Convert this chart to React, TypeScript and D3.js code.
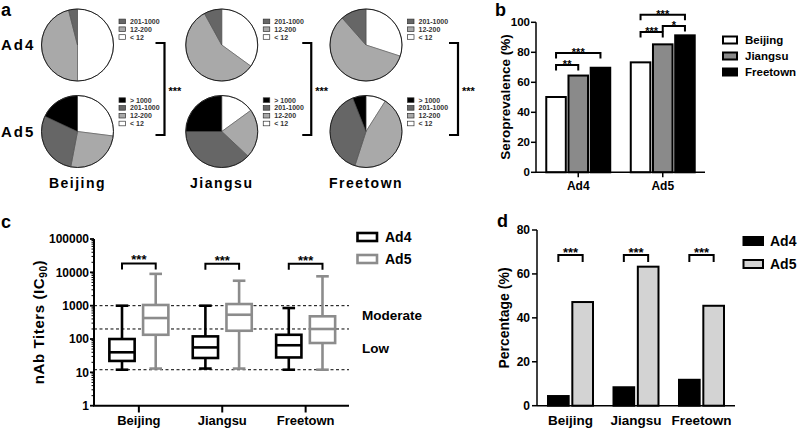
import React from 'react';
import * as d3 from 'd3';

const FONT = '"Liberation Sans", Arial, Helvetica, sans-serif';

// ---------- Panel a: distribution of nAb titers ----------
const cities = ['Beijing', 'Jiangsu', 'Freetown'];
const titerBins = ['< 12', '12-200', '201-1000', '> 1000'];
const binColors = ['#ffffff', '#a9a9a9', '#666666', '#000000'];
const ad4Shares = [
  [50, 46, 4, 0],
  [35, 57, 8, 0],
  [30, 58.5, 11.5, 0],
];
const ad5Shares = [
  [27, 26, 29, 18],
  [15, 22, 38, 25],
  [9, 46, 39, 6],
];
const pieRows = ['Ad4', 'Ad5'];
const pieSignificance = ['***', '***', '***'];

// ---------- Panel b: seroprevalence ----------
const seroGroups = ['Ad4', 'Ad5'];
const seroAd4 = [50.2, 64.5, 69.7];
const seroAd5 = [73.3, 85.3, 91.3];
const seroTicks = [0, 20, 40, 60, 80, 100];
const cityFills = ['#ffffff', '#8a8a8a', '#000000'];
const seroBrackets = [
  { group: 'Ad4', from: 0, to: 1, level: 71.5, label: '**' },
  { group: 'Ad4', from: 0, to: 2, level: 79.5, label: '***' },
  { group: 'Ad5', from: 0, to: 1, level: 93.5, label: '***' },
  { group: 'Ad5', from: 1, to: 2, level: 97.5, label: '*' },
  { group: 'Ad5', from: 0, to: 2, level: 105, label: '***' },
];

// ---------- Panel c: box plots of nAb titers ----------
const boxSeries = ['Ad4', 'Ad5'];
const boxColors = ['#000000', '#8c8c8c'];
const ad4Min = [12, 13, 12];
const ad4Q1 = [22, 27, 28];
const ad4Median = [40, 56, 65];
const ad4Q3 = [100, 120, 134];
const ad4Max = [1000, 1000, 850];
const ad5Min = [13, 13, 12];
const ad5Q1 = [134, 177, 76];
const ad5Median = [426, 535, 200];
const ad5Q3 = [1050, 1120, 480];
const ad5Max = [9000, 5600, 7600];
const titerTicks = [1, 10, 100, 1000, 10000, 100000];
const thresholds = [12, 200, 1000];
const boxBracketLevel = [18500, 18000, 18000];

// ---------- Panel d: percentage with high titers ----------
const highAd4 = [4.4, 8.4, 11.8];
const highAd5 = [47.2, 63.3, 45.5];
const highTicks = [0, 20, 40, 60, 80];
const highColors = ['#000000', '#d3d3d3'];
const highBracketLevel = [68.6, 68.6, 68.6];

function Bracket({ x1, x2, y, drop, label, fs, lift = 0 }: any) {
  return (
    <g>
      <path d={`M${x1},${y + drop}V${y}H${x2}V${y + drop}`} fill="none" stroke="#000" strokeWidth={2} />
      <text x={(x1 + x2) / 2} y={y + lift} textAnchor="middle" fontSize={fs} fontWeight="bold" fontFamily={FONT}>
        {label}
      </text>
    </g>
  );
}

function PanelA() {
  const cx = d3.scalePoint<string>().domain(cities).range([77.5, 366]);
  const bx = d3.scalePoint<string>().domain(cities).range([164.5, 458]);
  const cy = d3.scalePoint<string>().domain(pieRows).range([45, 131.5]);
  const r = 36;
  const pie = d3.pie<number>().sort(null).value((d) => d);
  const arc = d3.arc<any>().innerRadius(0).outerRadius(r);
  const rows = [ad4Shares, ad5Shares];
  return (
    <g>
      <text x={1} y={16} fontSize={18} fontWeight="bold" fontFamily={FONT}>a</text>
      {pieRows.map((row) => (
        <text key={row} x={1} y={cy(row)! + 5} fontSize={15} fontWeight="bold" letterSpacing={2} fontFamily={FONT}>
          {row}
        </text>
      ))}
      {cities.map((city, ci) => {
        const x = cx(city)!;
        return (
          <g key={city}>
            {pieRows.map((row, ri) => {
              const y = cy(row)!;
              const shares = rows[ri][ci];
              const arcs = pie(shares);
              const legendIdx = titerBins.map((_, i) => i).filter((i) => rows[ri].some((s) => s[i] > 0)).reverse();
              return (
                <g key={row}>
                  <g transform={`translate(${x},${y})`}>
                    {arcs.map((a, i) =>
                      a.value > 0 ? (
                        <path key={i} d={arc(a)!} fill={binColors[i]} stroke="#444" strokeWidth={0.5} />
                      ) : null
                    )}
                    <circle r={r} fill="none" stroke="#222" strokeWidth={1} />
                  </g>
                  {legendIdx.map((bi, k) => {
                    const ly = y - 8 - (legendIdx.length - 1 - k) * 7.8;
                    return (
                      <g key={bi}>
                        <rect x={x + 41.5} y={ly - 2.3} width={6.5} height={4.6} fill={binColors[bi]} stroke="#333" strokeWidth={0.7} />
                        <text x={x + 52.5} y={ly + 2.5} fontSize={7} fontWeight="bold" fill="#333" fontFamily={FONT}>
                          {titerBins[bi]}
                        </text>
                      </g>
                    );
                  })}
                </g>
              );
            })}
            <path d={`M${bx(city)! - 9},43H${bx(city)}V135H${bx(city)! - 9}`} fill="none" stroke="#000" strokeWidth={2.2} />
            <text x={bx(city)! + 4} y={95} fontSize={11} fontWeight="bold" fontFamily={FONT}>
              {pieSignificance[ci]}
            </text>
            <text x={x} y={188.3} textAnchor="middle" fontSize={14} fontWeight="bold" letterSpacing={1.5} fontFamily={FONT}>
              {city}
            </text>
          </g>
        );
      })}
    </g>
  );
}

function PanelB() {
  const y = d3.scaleLinear().domain([0, 100]).range([172.3, 22.3]);
  const x = d3.scaleBand<string>().domain(seroGroups).range([536, 705]).paddingInner(0.243).paddingOuter(0.1215);
  const sub = d3.scaleBand<string>().domain(cities).range([0, x.bandwidth()]).paddingInner(0.12);
  const vals = [seroAd4, seroAd5];
  const barCenter = (g: string, i: number) => x(g)! + sub(cities[i])! + sub.bandwidth() / 2;
  return (
    <g fontFamily={FONT}>
      <text x={495} y={16} fontSize={18} fontWeight="bold">b</text>
      {seroGroups.map((g, gi) =>
        cities.map((c, ci) => (
          <rect key={g + c} x={x(g)! + sub(c)!} y={y(vals[gi][ci])} width={sub.bandwidth()} height={y(0) - y(vals[gi][ci])}
            fill={cityFills[ci]} stroke="#000" strokeWidth={2} />
        ))
      )}
      <line x1={536} x2={536} y1={y(100)} y2={y(0)} stroke="#000" strokeWidth={1.5} />
      <line x1={536} x2={705} y1={y(0)} y2={y(0)} stroke="#000" strokeWidth={1.5} />
      {seroTicks.map((t) => (
        <g key={t}>
          <line x1={531} x2={536} y1={y(t)} y2={y(t)} stroke="#000" strokeWidth={1.5} />
          <text x={530} y={y(t) + 4} textAnchor="end" fontSize={11.5} fontWeight="bold">{t}</text>
        </g>
      ))}
      {seroGroups.map((g) => (
        <g key={g}>
          <line x1={x(g)! + x.bandwidth() / 2} x2={x(g)! + x.bandwidth() / 2} y1={y(0)} y2={y(0) + 5} stroke="#000" strokeWidth={1.5} />
          <text x={x(g)! + x.bandwidth() / 2} y={190} textAnchor="middle" fontSize={12} fontWeight="bold">{g}</text>
        </g>
      ))}
      <text transform={`translate(510,97) rotate(-90)`} textAnchor="middle" fontSize={13.5} fontWeight="bold">Seroprevalence (%)</text>
      {seroBrackets.map((b, i) => (
        <Bracket key={i} x1={barCenter(b.group, b.from)} x2={barCenter(b.group, b.to)} y={y(b.level)} drop={5.5} label={b.label} fs={11} lift={3} />
      ))}
      {cities.map((c, i) => {
        const ly = 40 + i * 16;
        return (
          <g key={c}>
            <rect x={723} y={ly - 3.5} width={14} height={7} fill={cityFills[i]} stroke="#000" strokeWidth={2} />
            <text x={745} y={ly + 4} fontSize={11.5} fontWeight="bold">{c}</text>
          </g>
        );
      })}
    </g>
  );
}

function PanelC() {
  const y = d3.scaleLog().domain([1, 100000]).range([405.7, 239]);
  const x = d3.scalePoint<string>().domain(cities).range([95.5, 349]).padding(0.52);
  const sub = d3.scaleBand<string>().domain(boxSeries).range([-29.5, 29.5]).paddingInner(0.25);
  const stats = [
    { min: ad4Min, q1: ad4Q1, med: ad4Median, q3: ad4Q3, max: ad4Max },
    { min: ad5Min, q1: ad5Q1, med: ad5Median, q3: ad5Q3, max: ad5Max },
  ];
  const minor: number[] = [];
  for (let dec = 1; dec < 100000; dec *= 10) for (let k = 2; k <= 9; k++) minor.push(dec * k);
  const bw = sub.bandwidth();
  return (
    <g fontFamily={FONT}>
      <text x={1} y={228} fontSize={18} fontWeight="bold">c</text>
      {thresholds.map((t) => (
        <line key={t} x1={94} x2={349} y1={y(t)} y2={y(t)} stroke="#000" strokeWidth={1} strokeDasharray="3,2.5" />
      ))}
      {cities.map((c, ci) => (
        <g key={c}>
          {boxSeries.map((s, si) => {
            const st = stats[si];
            const xc = x(c)! + sub(s)! + bw / 2;
            const col = boxColors[si];
            return (
              <g key={s} stroke={col} strokeWidth={2.6} fill="none">
                <line x1={xc} x2={xc} y1={y(st.max[ci])} y2={y(st.q3[ci])} />
                <line x1={xc} x2={xc} y1={y(st.q1[ci])} y2={y(st.min[ci])} />
                <line x1={xc - 6.3} x2={xc + 6.3} y1={y(st.max[ci])} y2={y(st.max[ci])} />
                <line x1={xc - 6.3} x2={xc + 6.3} y1={y(st.min[ci])} y2={y(st.min[ci])} />
                <rect x={xc - bw / 2} y={y(st.q3[ci])} width={bw} height={y(st.q1[ci]) - y(st.q3[ci])} fill="#fff" />
                <line x1={xc - bw / 2} x2={xc + bw / 2} y1={y(st.med[ci])} y2={y(st.med[ci])} />
              </g>
            );
          })}
          <Bracket x1={x(c)! + sub('Ad4')! + bw / 2} x2={x(c)! + sub('Ad5')! + bw / 2} y={y(boxBracketLevel[ci])} drop={6} label="***" fs={13} lift={1} />
          <line x1={x(c)} x2={x(c)} y1={405.7} y2={412.5} stroke="#000" strokeWidth={2} />
          <text x={x(c)} y={425} textAnchor="middle" fontSize={13} fontWeight="bold">{c}</text>
        </g>
      ))}
      <line x1={94} x2={94} y1={y(100000)} y2={y(1)} stroke="#000" strokeWidth={2} />
      <line x1={93} x2={349} y1={y(1)} y2={y(1)} stroke="#000" strokeWidth={2} />
      {minor.map((m) => (
        <line key={m} x1={91.5} x2={94} y1={y(m)} y2={y(m)} stroke="#000" strokeWidth={1} />
      ))}
      {titerTicks.map((t) => (
        <g key={t}>
          <line x1={90} x2={94} y1={y(t)} y2={y(t)} stroke="#000" strokeWidth={1.8} />
          <text x={89} y={y(t) + 4.2} textAnchor="end" fontSize={12} fontWeight="bold">{t}</text>
        </g>
      ))}
      <text transform={`translate(44,322) rotate(-90)`} textAnchor="middle" fontSize={15} fontWeight="bold" letterSpacing={0.6}>
        nAb Titers (IC<tspan fontSize={10} dy={3}>90</tspan><tspan dy={-3}>)</tspan>
      </text>
      {boxSeries.map((s, i) => (
        <g key={s}>
          <rect x={357.5} y={233 + i * 22} width={19.5} height={8} fill="#fff" stroke={boxColors[i]} strokeWidth={2.6} />
          <text x={385} y={242 + i * 22} fontSize={14} fontWeight="bold">{s}</text>
        </g>
      ))}
      <text x={362} y={320} fontSize={13.5} fontWeight="bold">Moderate</text>
      <text x={362} y={353} fontSize={13.5} fontWeight="bold">Low</text>
    </g>
  );
}

function PanelD() {
  const y = d3.scaleLinear().domain([0, 80]).range([405.7, 230]);
  const x = d3.scaleBand<string>().domain(cities).range([537, 735]).paddingInner(0.313).paddingOuter(0.168);
  const sub = d3.scaleBand<string>().domain(boxSeries).range([0, x.bandwidth()]).paddingInner(0.15);
  const vals = [highAd4, highAd5];
  return (
    <g fontFamily={FONT}>
      <text x={497} y={227} fontSize={18} fontWeight="bold">d</text>
      {cities.map((c, ci) => (
        <g key={c}>
          {boxSeries.map((s, si) => (
            <rect key={s} x={x(c)! + sub(s)!} y={y(vals[si][ci])} width={sub.bandwidth()} height={y(0) - y(vals[si][ci])}
              fill={highColors[si]} stroke="#000" strokeWidth={2} />
          ))}
          <Bracket x1={x(c)! + sub('Ad4')! + sub.bandwidth() / 2} x2={x(c)! + sub('Ad5')! + sub.bandwidth() / 2}
            y={y(highBracketLevel[ci])} drop={7} label="***" fs={13} lift={1.5} />
          <text x={x(c)! + x.bandwidth() / 2} y={425} textAnchor="middle" fontSize={13.5} fontWeight="bold">{c}</text>
        </g>
      ))}
      <line x1={537} x2={537} y1={y(80)} y2={y(0)} stroke="#000" strokeWidth={1.5} />
      <line x1={537} x2={735} y1={y(0)} y2={y(0)} stroke="#000" strokeWidth={1.5} />
      {highTicks.map((t) => (
        <g key={t}>
          <line x1={532} x2={537} y1={y(t)} y2={y(t)} stroke="#000" strokeWidth={1.5} />
          <text x={530} y={y(t) + 4.3} textAnchor="end" fontSize={12} fontWeight="bold">{t}</text>
        </g>
      ))}
      <text transform={`translate(509,318) rotate(-90)`} textAnchor="middle" fontSize={14} fontWeight="bold">Percentage (%)</text>
      {boxSeries.map((s, i) => (
        <g key={s}>
          <rect x={743.5} y={237 + i * 23} width={19.5} height={8} fill={highColors[i]} stroke="#000" strokeWidth={2} />
          <text x={770} y={245.5 + i * 23} fontSize={14} fontWeight="bold">{s}</text>
        </g>
      ))}
    </g>
  );
}

export default function App() {
  return (
    <svg width={800} height={435} style={{ position: 'absolute', left: 0, top: 0, background: '#fff' }}>
      <rect width={800} height={435} fill="#fff" />
      <PanelA />
      <PanelB />
      <PanelC />
      <PanelD />
    </svg>
  );
}
